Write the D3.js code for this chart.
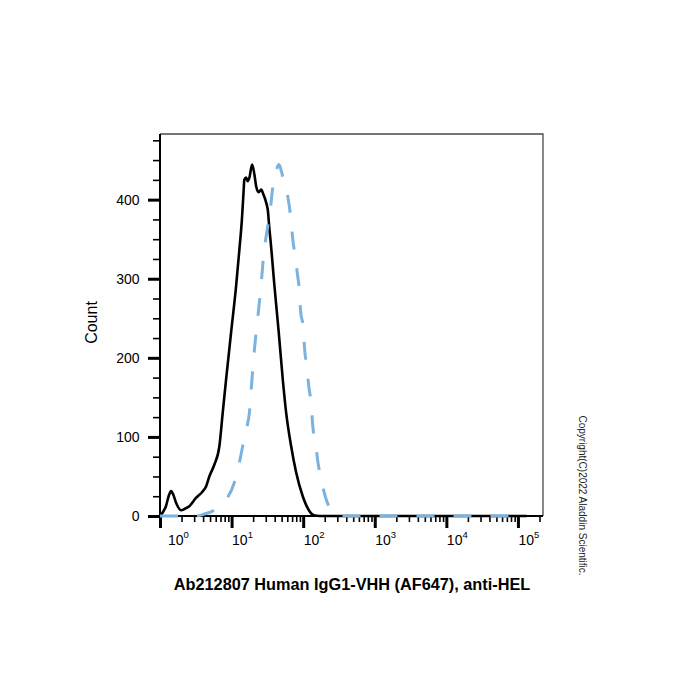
<!DOCTYPE html>
<html>
<head>
<meta charset="utf-8">
<script src="https://cdn.jsdelivr.net/npm/d3@7"></script>
<style>
  html, body { margin: 0; padding: 0; background: #fff; }
  svg { display: block; font-family: "Liberation Sans", Arial, sans-serif; }
</style>
</head>
<body>
<svg id="chart" width="700" height="700"></svg>
<script>
// ---------- data ----------
// black solid histogram: fluorescence intensity and count
const blackIntensity = [1.00, 1.09, 1.21, 1.33, 1.43, 1.53, 1.67, 1.97, 2.26, 2.57, 3.18, 3.94, 4.40, 4.90, 5.75, 6.75, 7.52, 8.38, 9.84, 11.56, 12.85, 13.93, 14.62, 15.10, 15.96, 16.79, 17.74, 19.36, 20.84, 22.03, 23.93, 25.88, 27.86, 30.41, 31.99, 33.81, 34.91, 39.72, 45.60, 51.88, 57.81, 67.92, 79.80, 98.6, 122.5, 143.9, 169.0, 132700];
const blackCount     = [0, 4.4, 12.4, 25.9, 31.4, 27.2, 17.1, 7.3, 9.5, 12.4, 22.8, 31, 37.3, 50.3, 65.1, 88.2, 130.8, 172.6, 232, 290.5, 336.9, 374.8, 406.4, 425.4, 427.9, 423.3, 427.9, 444.4, 431.7, 416.9, 409.4, 412.7, 406.4, 396.3, 387.5, 362.2, 349.6, 290.5, 232, 172.6, 130.8, 88.2, 55, 25, 6.1, 0.6, 0, 0];

// blue dashed histogram
const blueIntensity = [1.00, 3.18, 4.17, 5.16, 5.93, 7.19, 8.81, 10.94, 12.85, 14.29, 16.11, 17.74, 19.72, 20.84, 22.03, 23.71, 25.06, 26.73, 27.86, 30.41, 32.21, 34.51, 37.24, 39.72, 42.36, 45.92, 49.77, 52.97, 57.81, 60.95, 65.77, 68.55, 71.61, 77.98, 83.18, 88.72, 91.62, 100.9, 104.3, 112.2, 119.7, 129.4, 136.1, 148.6, 160.0, 178.6, 209.9, 233.3, 274.2, 322.1, 132700];
const blueCount     = [0, 0, 2.5, 5.3, 8.2, 14.5, 23.4, 42.3, 67.6, 88.2, 109.3, 130.8, 185.2, 210.5, 232, 258.9, 280, 307.8, 328.4, 353.7, 368.5, 384.9, 412.7, 425.4, 438, 444.4, 435.5, 425.4, 415.3, 403.9, 383.7, 368.5, 349.6, 326.8, 305.3, 284.2, 261, 235.8, 213, 189.4, 164.1, 141, 113.5, 92.9, 69.3, 46.1, 20.9, 10.7, 1.9, 0, 0];

// axes
const xMajorTicks = [1, 10, 100, 1000, 10000, 100000];
const xTickExponents = ["0", "1", "2", "3", "4", "5"];
const yMajorTicks = [0, 100, 200, 300, 400];
const yMinorTicks = [25, 50, 75, 125, 150, 175, 225, 250, 275, 325, 350, 375, 425, 450, 475];
const xTitle = "Ab212807 Human IgG1-VHH (AF647), anti-HEL";
const yTitle = "Count";
const copyright = "Copyright(C)2022 Aladdin Scientific.";

// ---------- layout ----------
const L = 160, R = 543, T = 134, B = 516;
const svg = d3.select("#chart");

const x = d3.scaleLog().domain([1, Math.pow(10, 5.35)]).range([L, R]);
const y = d3.scaleLinear().domain([0, 483]).range([B, T]);

// frame (top/right)
svg.append("path")
  .attr("d", `M${L},${T}H${R}V${B}`)
  .attr("fill", "none").attr("stroke", "#4a4a4a").attr("stroke-width", 1.3);

// y minor ticks
const yMinorAxis = d3.axisLeft(y).tickValues(yMinorTicks).tickSize(7).tickFormat("");
const gyMinor = svg.append("g").attr("transform", `translate(${L},0)`).call(yMinorAxis);
gyMinor.select(".domain").remove();
gyMinor.selectAll("line").attr("stroke", "#000").attr("stroke-width", 1.6);

// y major ticks
const yAxis = d3.axisLeft(y).tickValues(yMajorTicks).tickSize(12).tickPadding(8.5);
const gy = svg.append("g").attr("transform", `translate(${L},0)`).call(yAxis);
gy.select(".domain").remove();
gy.selectAll("line").attr("stroke", "#000").attr("stroke-width", 3);
gy.selectAll("text").attr("font-size", 14).attr("fill", "#000")
  .attr("font-family", "'Liberation Sans', Arial, sans-serif");

// x minor ticks
const xMinorTicks = x.ticks(60).filter(v => xMajorTicks.indexOf(v) < 0 && v > 1);
const xMinorAxis = d3.axisBottom(x).tickValues(xMinorTicks).tickSize(6).tickFormat("");
const gxMinor = svg.append("g").attr("transform", `translate(0,${B})`).call(xMinorAxis);
gxMinor.select(".domain").remove();
gxMinor.selectAll("line").attr("stroke", "#000").attr("stroke-width", 1.6);

// x major ticks
const xAxis = d3.axisBottom(x).tickValues(xMajorTicks).tickSize(12).tickFormat("");
const gx = svg.append("g").attr("transform", `translate(0,${B})`).call(xAxis);
gx.select(".domain").remove();
gx.selectAll("line").attr("stroke", "#000").attr("stroke-width", 3);
gx.selectAll(".tick text").each(function(d, i) {
  const t = d3.select(this).text(null)
    .attr("y", 29).attr("dy", 0)
    .attr("dx", i === 0 ? 7.5 : 0)
    .attr("text-anchor", "start")
    .attr("font-size", 14).attr("fill", "#000")
    .attr("font-family", "'Liberation Sans', Arial, sans-serif");
  t.append("tspan").text("10");
  t.append("tspan").attr("dy", -7).attr("font-size", 9.5).text(xTickExponents[i]);
});

// axis lines (left & bottom)
svg.append("path")
  .attr("d", `M${L},${T}V${B}H${R}`)
  .attr("fill", "none").attr("stroke", "#000").attr("stroke-width", 2);

// curves
const line = d3.line().x(d => x(d[0])).y(d => y(d[1])).curve(d3.curveMonotoneX);
const blackData = blackIntensity.map((v, i) => [v, blackCount[i]]);
const blueData = blueIntensity.map((v, i) => [v, blueCount[i]]);

svg.append("path").datum(blackData)
  .attr("d", line).attr("fill", "none")
  .attr("stroke", "#000").attr("stroke-width", 2.6).attr("stroke-linejoin", "round");

svg.append("path").datum(blueData)
  .attr("d", line).attr("fill", "none")
  .attr("stroke", "#7ab3df").attr("stroke-width", 3)
  .attr("stroke-dasharray", "18,19");

// titles
svg.append("text")
  .attr("x", 352).attr("y", 589.5)
  .attr("text-anchor", "middle")
  .attr("font-size", 16.3).attr("font-weight", "bold").attr("fill", "#000")
  .text(xTitle);

svg.append("text")
  .attr("transform", "translate(96.5,322.5) rotate(-90)")
  .attr("text-anchor", "middle")
  .attr("font-size", 16).attr("fill", "#000")
  .text(yTitle);

svg.append("text")
  .attr("transform", "translate(578.5,495.5) rotate(90)")
  .attr("text-anchor", "middle")
  .attr("font-size", 10).attr("fill", "#222")
  .text(copyright);
</script>
</body>
</html>
